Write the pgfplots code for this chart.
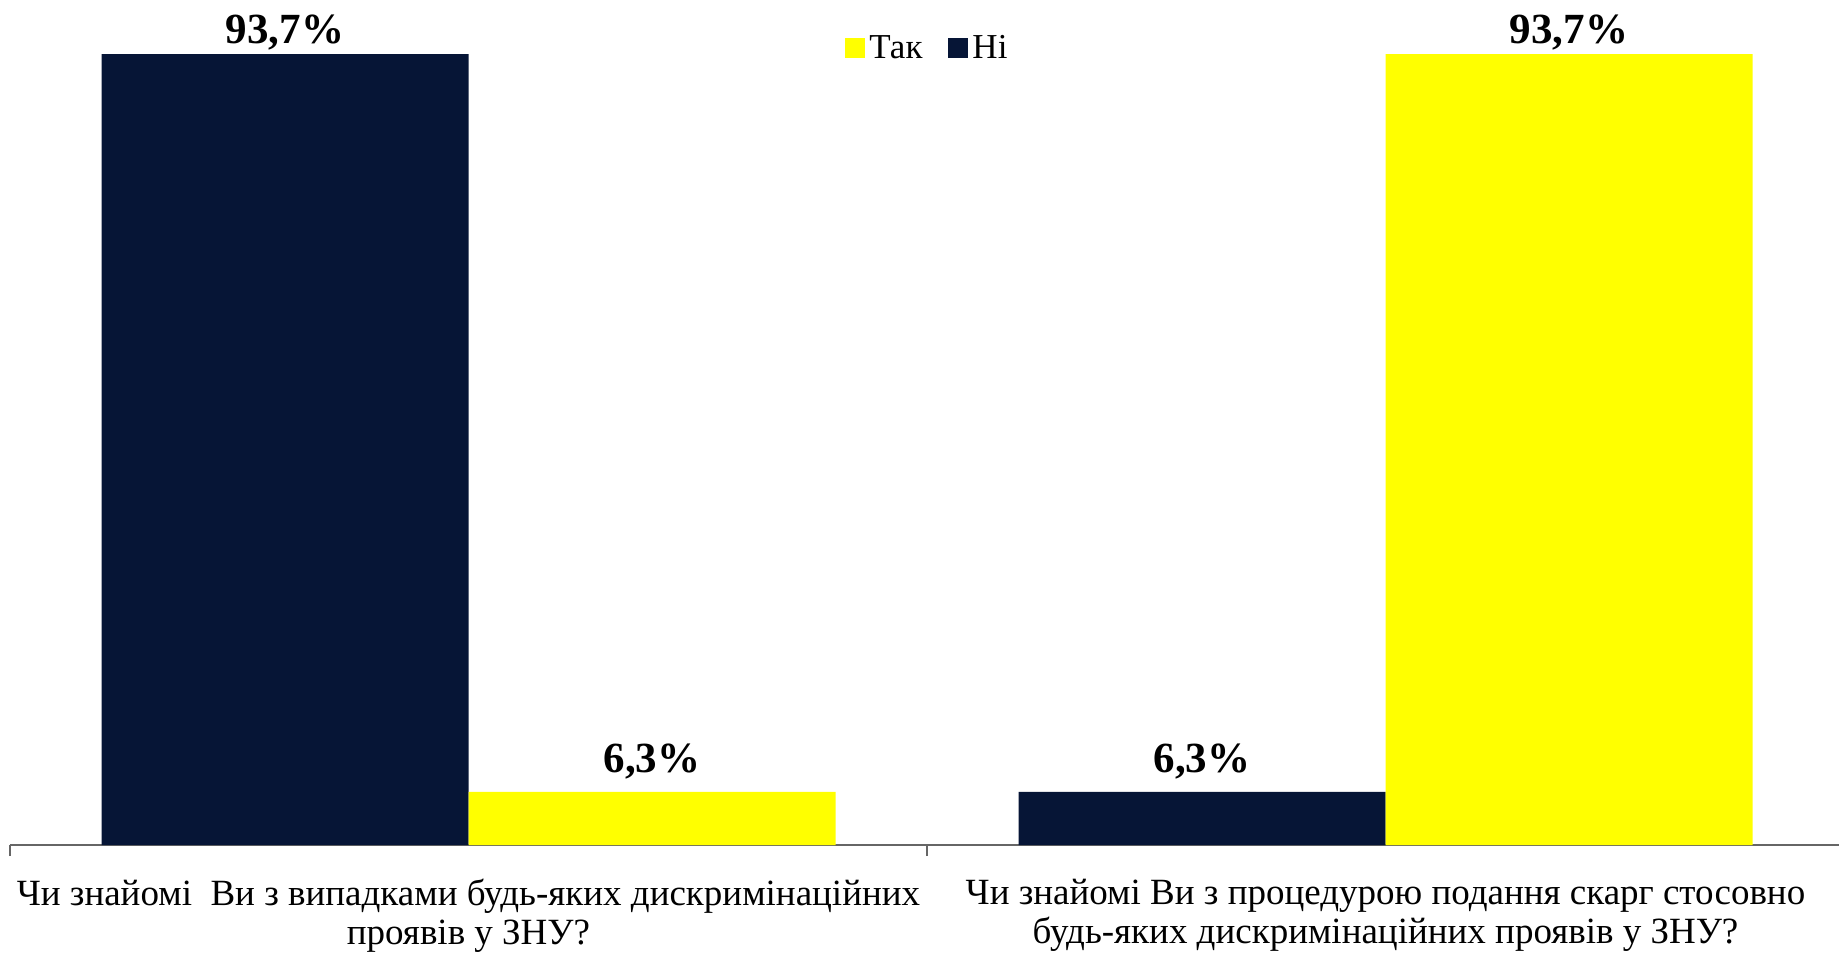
\documentclass[border=0pt]{standalone}
\usepackage{pgfplots}
\pgfplotsset{compat=1.18}
\usepackage{pgfplotstable}
\usepackage{fontspec}
\setmainfont{Liberation Serif}
\definecolor{navy}{HTML}{061536}
\definecolor{yel}{HTML}{FFFF00}
\pgfplotstableread{
x y
0 93.7
1 6.3
}\ni
\pgfplotstableread{
x y
0 6.3
1 93.7
}\tak
\begin{document}
\begin{tikzpicture}
\useasboundingbox (-5pt,-54pt) rectangle (914.5pt,422.5pt);
\begin{axis}[
  scale only axis,
  width=917pt, height=422pt,
  ybar=0pt, bar width=183.5pt,
  xmin=-0.5, xmax=1.5, ymin=0, ymax=100,
  clip=false,
  axis x line*=bottom, axis y line=none,
  x axis line style={draw=gray!80!black, line width=1pt, -},
  xtick={-0.5,0.5,1.5},
  xticklabels={},
  xtick align=outside,
  major tick length=5.5pt,
  major x tick style={draw=gray!80!black, line width=1pt},
  extra x ticks={0,1},
  extra x tick labels={{Чи знайомі~ Ви з випадками будь-яких дискримінаційних\\проявів у ЗНУ?},{Чи знайомі Ви з процедурою подання скарг стосовно\\будь-яких дискримінаційних проявів у ЗНУ?}},
  extra x tick style={major tick length=0pt, tick style={draw=none},
    xticklabel style={align=center, font=\fontsize{18.5}{19.5}\selectfont, anchor=north, yshift=-13.5pt}},
  ytick=\empty,
  /pgf/number format/.cd, use comma, fixed, fixed zerofill, precision=1, assume math mode=true,
  /pgfplots/.cd,
  nodes near coords={\pgfmathprintnumber{\pgfplotspointmeta}\%},
  visualization depends on={y \as \yy},
  nodes near coords style={font=\fontsize{21.5}{23}\selectfont\bfseries, anchor=base, yshift={ifthenelse(\yy>50,5.5,9.5)}},
  reverse legend,
  legend columns=2,
  legend style={at={(rel axis cs:0.5008,0.944)}, anchor=center, draw=none, fill=none,
    font=\fontsize{17.5}{20}\selectfont,
    /tikz/every even column/.append style={column sep=11pt}},
  legend image code/.code={\fill[#1] (0pt,-5pt) rectangle (10pt,5pt);},
]
\addplot[fill=navy, draw=none] table[x=x,y=y] {\ni};
\addplot[fill=yel, draw=none] table[x=x,y=y] {\tak};
\legend{Ні,Так}
\end{axis}
\end{tikzpicture}
\end{document}
